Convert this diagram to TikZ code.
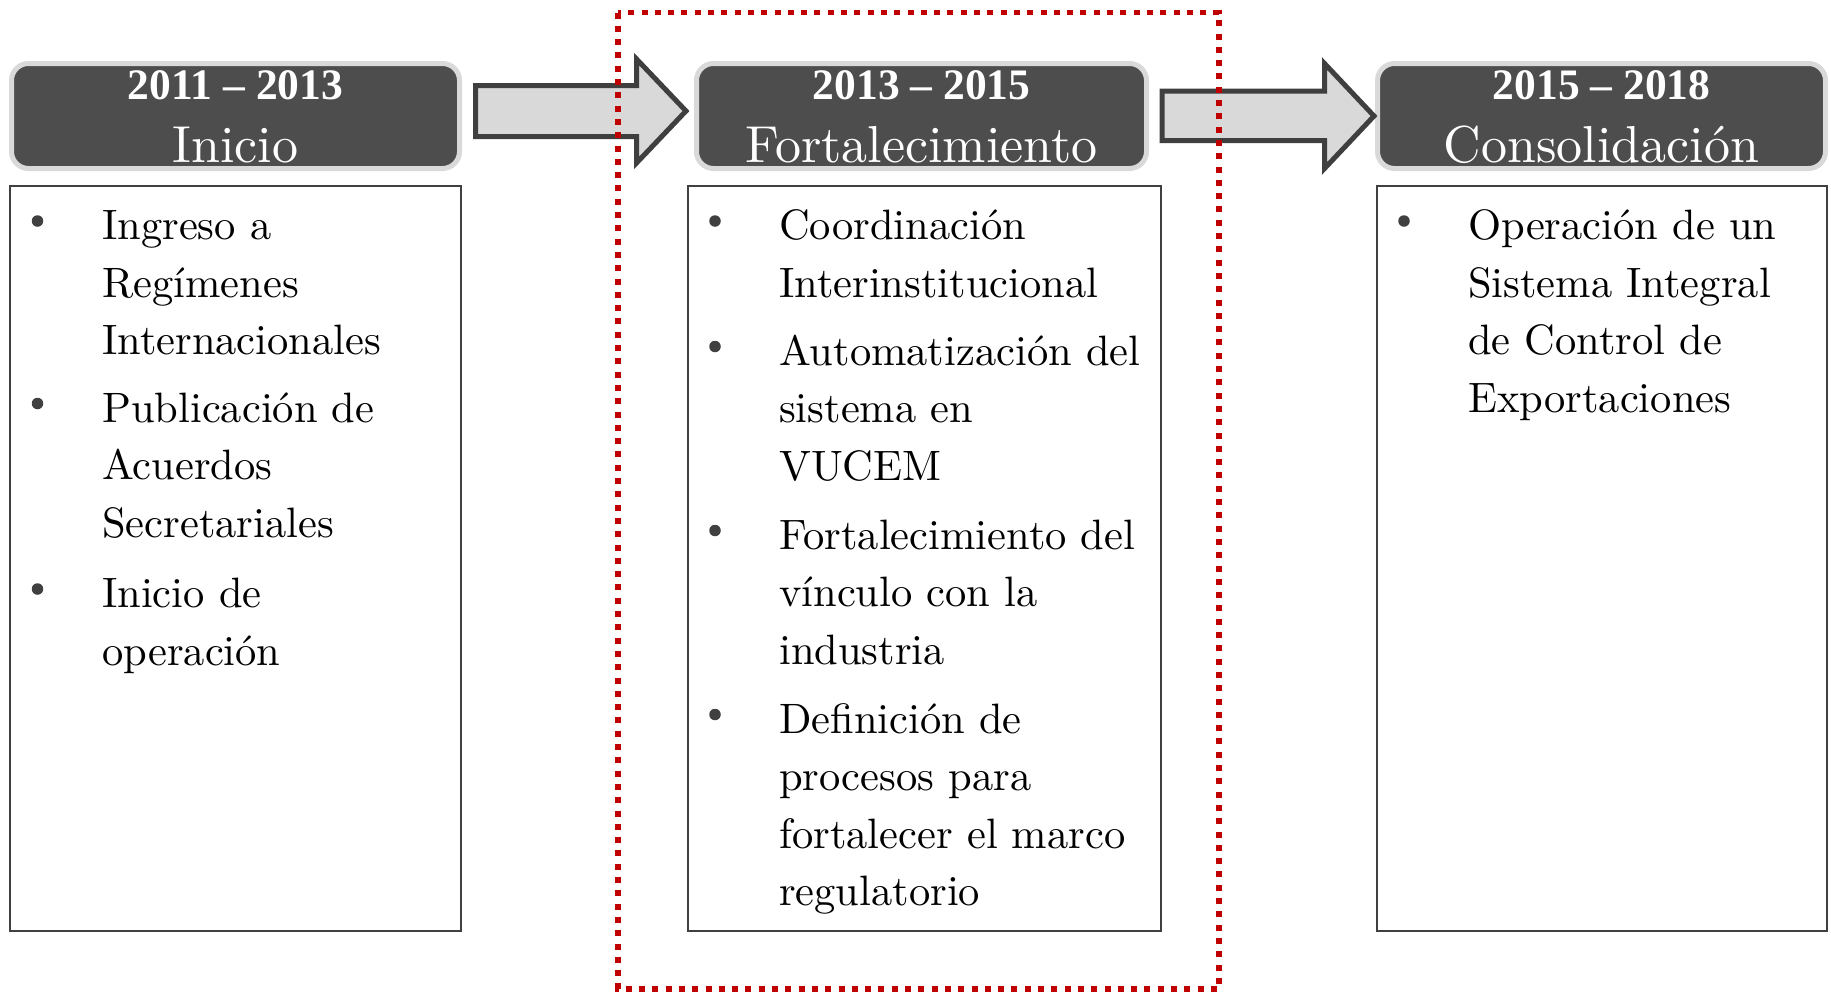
\documentclass[tikz,border=0pt]{standalone}
\usepackage{fontspec}
\newfontfamily\yearfamily{Liberation Serif}
\newfontfamily\lmten{lmroman10-regular}[Extension=.otf]
\definecolor{hdrfill}{HTML}{4D4D4D}
\definecolor{hdrborder}{HTML}{D9D9D9}
\definecolor{arrowfill}{HTML}{D9D9D9}
\definecolor{arrowborder}{HTML}{3F3F3F}
\definecolor{boxborder}{HTML}{404040}
\definecolor{bulletcol}{HTML}{404040}
\definecolor{framered}{HTML}{C00000}
\tikzset{
  hdr/.style={draw=hdrborder, line width=5pt, fill=hdrfill, rounded corners=17pt, inner sep=0pt},
  bodybox/.style={draw=boxborder, line width=2pt, fill=white, inner sep=0pt},
  blockarrow/.style={draw=arrowborder, fill=arrowfill, line width=5pt, miter limit=10},
  yearlbl/.style={anchor=base, inner sep=0pt, text=white, font=\yearfamily\bfseries\fontsize{43.5}{50}\selectfont},
  namelbl/.style={anchor=base, inner sep=0pt, text=white, font=\lmten\fontsize{52}{58}\selectfont},
  itemtext/.style={anchor=base west, inner sep=0pt, font=\lmten\fontsize{42.5}{57.5}\selectfont},
  bulletdot/.style={circle, fill=bulletcol, inner sep=0pt, minimum size=11.5pt},
  redframe/.style={draw=framered, line width=5.5pt, dash pattern=on 6pt off 7.3pt}
}
\newcommand{\itembox}[1]{\parbox[t]{430pt}{#1}}
\begin{document}
\begin{tikzpicture}[x=1pt,y=-1pt]
\useasboundingbox (0,0) rectangle (1831,994);
% headers
\node[hdr, minimum width=448pt, minimum height=105pt] (h1) at (235.5,116) {};
\node[hdr, minimum width=450pt, minimum height=105pt] (h2) at (921.5,116) {};
\node[hdr, minimum width=448pt, minimum height=105pt] (h3) at (1601.5,116) {};
\node[yearlbl] (y1) at (235.5,99.5) {2011 – 2013};
\node[namelbl] (n1) at (235.5,162) {Inicio};
\node[yearlbl] (y2) at (921.5,99.5) {2013 – 2015};
\node[namelbl] (n2) at (921.5,162) {Fortalecimiento};
\node[yearlbl] (y3) at (1601.5,99.5) {2015 – 2018};
\node[namelbl] (n3) at (1601.5,162) {Consolidación};
% body boxes
\node[bodybox, minimum width=451pt, minimum height=745.5pt] (b1) at (235.5,558.25) {};
\node[bodybox, minimum width=473pt, minimum height=745.5pt] (b2) at (924.5,558.25) {};
\node[bodybox, minimum width=450pt, minimum height=745.5pt] (b3) at (1601.5,558.25) {};
% arrows
\draw[blockarrow] (475.5,85.5) -- (636.5,85.5) -- (636.5,59) -- (686,111) -- (636.5,163) -- (636.5,136.5) -- (475.5,136.5) -- cycle;
\draw[blockarrow] (1162,91) -- (1324.5,91) -- (1324.5,63.5) -- (1374,116) -- (1324.5,168.5) -- (1324.5,140.5) -- (1162,140.5) -- cycle;
% box 1 items
\node[itemtext] (t11) at (102,239.5) {\itembox{Ingreso a\\Regímenes\\Internacionales}};
\node[itemtext] (t12) at (102,422) {\itembox{Publicación de\\Acuerdos\\Secretariales}};
\node[itemtext] (t13) at (102,607.5) {\itembox{Inicio de\\operación}};
\node[bulletdot] (d11) at (37.5,221) {};
\node[bulletdot] (d12) at (37.5,403.5) {};
\node[bulletdot] (d13) at (37.5,589) {};
% box 2 items
\node[itemtext] (t21) at (779,239.5) {\itembox{Coordinación\\Interinstitucional}};
\node[itemtext] (t22) at (779,365) {\itembox{Automatización del\\sistema en\\VUCEM}};
\node[itemtext] (t23) at (779,549) {\itembox{Fortalecimiento del\\vínculo con la\\industria}};
\node[itemtext] (t24) at (779,733) {\itembox{Definición de\\procesos para\\fortalecer el marco\\regulatorio}};
\node[bulletdot] (d21) at (715,221) {};
\node[bulletdot] (d22) at (715,346.5) {};
\node[bulletdot] (d23) at (715,530.5) {};
\node[bulletdot] (d24) at (715,714.5) {};
% box 3 items
\node[itemtext] (t31) at (1468,239.5) {\itembox{Operación de un\\Sistema Integral\\de Control de\\Exportaciones}};
\node[bulletdot] (d31) at (1404,221) {};
% red dotted frame
\draw[redframe] (618,12.5) rectangle (1219,989);
\end{tikzpicture}
\end{document}
